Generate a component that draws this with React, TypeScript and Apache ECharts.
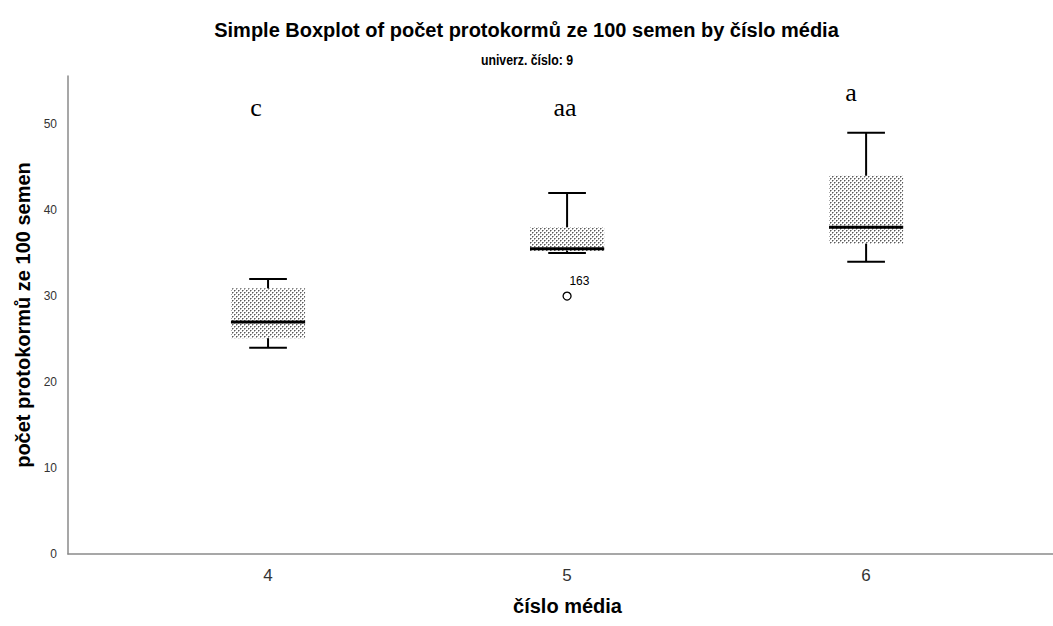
import React, { useEffect, useRef } from "react";
import * as echarts from "echarts";

const categories = [4, 5, 6];
const mins = [24, 35, 34];
const q1s = [25.1, 35.25, 36.1];
const medians = [27, 35.5, 38];
const q3s = [30.9, 38, 44];
const maxs = [32, 42, 49];
const outliers = [[5, 30]];
const outlierLabels = ["163"];
const letters = ["c", "aa", "a"];
const yTicks = [0, 10, 20, 30, 40, 50];

function makePattern(): HTMLCanvasElement {
  const c = document.createElement("canvas");
  c.width = 4;
  c.height = 4;
  const ctx = c.getContext("2d")!;
  ctx.fillStyle = "#ffffff";
  ctx.fillRect(0, 0, 4, 4);
  ctx.fillStyle = "#5a5a5a";
  ctx.fillRect(0, 0, 1, 1);
  ctx.fillRect(2, 2, 1, 1);
  ctx.fillStyle = "#a8a8a8";
  ctx.fillRect(1, 0, 1, 1);
  ctx.fillRect(3, 2, 1, 1);
  ctx.fillRect(0, 1, 1, 1);
  ctx.fillRect(2, 3, 1, 1);
  return c;
}

export default function App() {
  const ref = useRef<HTMLDivElement>(null);
  useEffect(() => {
    if (!ref.current) return;
    const chart = echarts.init(ref.current, undefined, { renderer: "svg" });
    const pat = makePattern();
    const fillPattern: any = { image: pat, repeat: "repeat", imageWidth: 4, imageHeight: 4 };
    const boxData = categories.map((c, i) => [c, mins[i], q1s[i], medians[i], q3s[i], maxs[i]]);
    const letterX = [256, 565, 851];
    const letterY = [107, 107, 92];
    const font = "'Liberation Sans', Arial, sans-serif";
    chart.setOption({
      animation: false,
      title: [
        {
          text: "Simple Boxplot of počet protokormů ze 100 semen by číslo média",
          left: "center",
          top: 15,
          textStyle: { fontSize: 20, fontWeight: "bold", fontFamily: font, color: "#000" },
        },
      ],
      grid: { left: 68, right: 0, top: 76, bottom: 72 },
      xAxis: {
        type: "value",
        min: 3.331,
        max: 6.625,
        axisLine: { show: true, lineStyle: { color: "#8a8a8a", width: 1.5 } },
        axisTick: { show: false },
        splitLine: { show: false },
        axisLabel: { customValues: categories, fontSize: 17, color: "#333", fontFamily: font, margin: 13 },
        name: "číslo média",
        nameLocation: "middle",
        nameGap: 42,
        nameTextStyle: {
          fontSize: 20,
          fontWeight: "bold",
          color: "#000",
          fontFamily: font,
          padding: [0, 0, 0, 14],
        },
      },
      yAxis: {
        type: "value",
        min: 0,
        max: 55.6,
        axisLine: { show: true, lineStyle: { color: "#8a8a8a", width: 1.5 } },
        axisTick: { show: false },
        splitLine: { show: false },
        axisLabel: { customValues: yTicks, fontSize: 12, color: "#333", fontFamily: font, margin: 11 },
        name: "počet protokormů ze 100 semen",
        nameLocation: "middle",
        nameGap: 35,
        nameTextStyle: { fontSize: 20, fontWeight: "bold", color: "#000", fontFamily: font },
      },
      series: [
        {
          type: "custom",
          data: boxData,
          encode: { x: 0, y: [1, 2, 3, 4, 5] },
          renderItem: (params: any, api: any) => {
            const x = api.value(0);
            const pMin = api.coord([x, api.value(1)]);
            const pQ1 = api.coord([x, api.value(2)]);
            const pMed = api.coord([x, api.value(3)]);
            const pQ3 = api.coord([x, api.value(4)]);
            const pMax = api.coord([x, api.value(5)]);
            const unit = api.size([1, 0])[0];
            const bh = unit * 0.124;
            const ch = unit * 0.063;
            const cx = pMed[0];
            return {
              type: "group",
              children: [
                {
                  type: "rect",
                  shape: { x: cx - bh, y: pQ3[1], width: bh * 2, height: pQ1[1] - pQ3[1] },
                  style: { fill: fillPattern, stroke: null },
                },
                {
                  type: "line",
                  shape: { x1: cx, y1: pQ3[1], x2: cx, y2: pMax[1] },
                  style: { stroke: "#000", lineWidth: 2 },
                },
                {
                  type: "line",
                  shape: { x1: cx, y1: pQ1[1], x2: cx, y2: pMin[1] },
                  style: { stroke: "#000", lineWidth: 2 },
                },
                {
                  type: "line",
                  shape: { x1: cx - ch, y1: pMax[1], x2: cx + ch, y2: pMax[1] },
                  style: { stroke: "#000", lineWidth: 2 },
                },
                {
                  type: "line",
                  shape: { x1: cx - ch, y1: pMin[1], x2: cx + ch, y2: pMin[1] },
                  style: { stroke: "#000", lineWidth: 2 },
                },
                {
                  type: "line",
                  shape: { x1: cx - bh, y1: pMed[1], x2: cx + bh, y2: pMed[1] },
                  style: { stroke: "#000", lineWidth: 3 },
                },
              ],
            };
          },
          z: 2,
        },
        {
          type: "scatter",
          data: outliers,
          symbol: "circle",
          symbolSize: 8,
          itemStyle: { color: "#fff", borderColor: "#000", borderWidth: 1.3, opacity: 1 },
          label: {
            show: true,
            formatter: (p: any) => outlierLabels[p.dataIndex],
            position: [7, -10],
            align: "left",
            verticalAlign: "middle",
            fontSize: 12,
            color: "#000",
            fontFamily: font,
          },
          z: 3,
        },
      ],
      graphic: [
        {
          type: "text",
          x: 527,
          y: 60,
          scaleX: 0.82,
          style: {
            text: "univerz. číslo: 9",
            font: "bold 15px 'Liberation Sans', Arial, sans-serif",
            fill: "#000",
            textAlign: "center",
            textVerticalAlign: "middle",
          },
        },
        ...letters.map((t, i) => ({
          type: "text",
          x: letterX[i],
          y: letterY[i],
          style: {
            text: t,
            font: "26px 'Liberation Serif', 'Times New Roman', serif",
            fill: "#000",
            textAlign: "center",
            textVerticalAlign: "middle",
          },
        })),
      ],
    });
    return () => chart.dispose();
  }, []);
  return (
    <div
      ref={ref}
      style={{ position: "absolute", left: 0, top: 0, width: 1053, height: 626, background: "#fff" }}
    />
  );
}
